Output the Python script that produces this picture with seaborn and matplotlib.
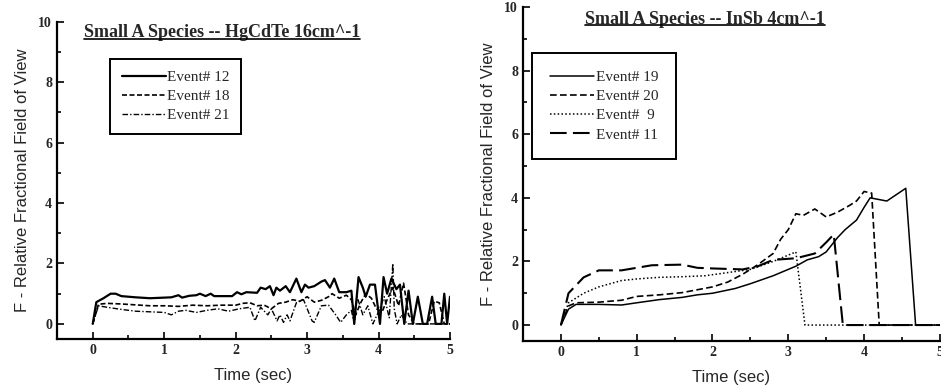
import matplotlib
matplotlib.use("Agg")
import matplotlib.pyplot as plt
from matplotlib.lines import Line2D
from matplotlib.ticker import MultipleLocator
import seaborn as sns

sns.set_style("ticks")
plt.rcParams['font.family'] = ['Liberation Serif', 'DejaVu Serif']

# ---- left panel: HgCdTe 16cm^-1 ----
t12 = [0, 0.05, 0.15, 0.25, 0.32, 0.4, 0.6, 0.8, 1.0, 1.1, 1.2, 1.25, 1.35, 1.45, 1.5, 1.58, 1.65, 1.7,
       1.95, 2.02, 2.08, 2.15, 2.3, 2.35, 2.42, 2.48, 2.53, 2.57, 2.62, 2.7, 2.76, 2.85, 2.92, 2.97,
       3.02, 3.1, 3.2, 3.25, 3.32, 3.38, 3.45, 3.55, 3.62, 3.66, 3.72, 3.78, 3.82, 3.88, 3.95, 4.02,
       4.07, 4.12, 4.18, 4.25, 4.3, 4.36, 4.42, 4.48, 4.55, 4.62, 4.68, 4.75, 4.8, 4.88, 4.92, 4.96, 5.0]
f12 = [0, 0.72, 0.85, 1.0, 1.0, 0.92, 0.88, 0.85, 0.87, 0.88, 0.95, 0.87, 0.93, 0.95, 1.0, 0.92, 1.0, 0.92,
       0.92, 1.05, 0.98, 1.05, 1.03, 1.2, 1.15, 1.25, 0.95, 1.2, 1.1, 1.25, 1.05, 1.5, 1.05, 1.3,
       1.2, 1.25, 1.4, 1.45, 1.2, 1.5, 1.05, 1.05, 1.1, 0.0, 1.55, 1.2, 0.9, 1.3, 1.3, 0.0,
       1.55, 1.0, 1.5, 1.15, 1.3, 0.0, 1.1, 0.0, 0.9, 0.0, 0.0, 0.9, 0.0, 0.0, 1.0, 0.0, 0.9]

t18 = [0, 0.08, 0.2, 0.4, 0.6, 0.8, 1.0, 1.2, 1.4, 1.6, 1.8, 2.0, 2.1, 2.2, 2.3, 2.4, 2.5, 2.6, 2.7,
       2.8, 2.9, 3.0, 3.1, 3.2, 3.3, 3.35, 3.45, 3.55, 3.62, 3.68, 3.75, 3.82, 3.9, 3.97, 4.05, 4.12,
       4.2, 4.28, 4.35, 4.42, 4.5, 4.6, 4.7, 4.78, 4.85, 4.92, 5.0]
f18 = [0, 0.65, 0.68, 0.66, 0.63, 0.6, 0.6, 0.58, 0.62, 0.6, 0.62, 0.62, 0.68, 0.7, 0.6, 0.62, 0.5, 0.68, 0.72,
       0.8, 0.75, 0.9, 0.72, 0.78, 0.9, 1.0, 0.85, 0.95, 0.8, 0.3, 0.7, 1.0, 0.85, 0.5, 0.4, 0.8,
       1.2, 0.6, 1.35, 0.3, 0.0, 0.0, 0.0, 0.75, 0.7, 0.0, 0.0]

t21 = [0, 0.08, 0.2, 0.4, 0.6, 0.8, 1.0, 1.1, 1.2, 1.3, 1.45, 1.6, 1.75, 1.9, 2.05, 2.2, 2.27, 2.35, 2.45,
       2.5, 2.58, 2.62, 2.67, 2.72, 2.76, 2.85, 2.95, 3.07, 3.1, 3.2, 3.3, 3.4, 3.47, 3.55, 3.62, 3.66,
       3.7, 3.78, 3.85, 3.92, 4.0, 4.08, 4.15, 4.2, 4.22, 4.26, 4.32, 4.4, 4.5, 4.6, 4.7, 4.8, 4.9, 5.0]
f21 = [0, 0.6, 0.55, 0.48, 0.42, 0.4, 0.38, 0.3, 0.42, 0.45, 0.38, 0.45, 0.5, 0.42, 0.5, 0.55, 0.1, 0.55, 0.3,
       0.5, 0.1, 0.3, 0.05, 0.3, 0.1, 0.7, 0.8, 0.1, 0.05, 0.6, 0.62, 0.3, 0.05, 0.3, 0.45, 0.0,
       0.9, 0.3, 0.6, 0.0, 0.4, 0.9, 0.2, 2.0, 0.5, 0.0, 0.3, 0.0, 0.0, 0.0, 0.0, 0.0, 0.0, 0.0]

# ---- right panel: InSb 4cm^-1 ----
t19 = [0, 0.1, 0.2, 0.5, 0.8, 1.0, 1.3, 1.6, 1.8, 2.0, 2.3, 2.5, 2.8, 3.1, 3.25, 3.4, 3.5, 3.65, 3.75,
       3.9, 4.0, 4.08, 4.3, 4.55, 4.68, 5.0]
f19 = [0, 0.5, 0.65, 0.65, 0.63, 0.7, 0.8, 0.87, 0.95, 1.0, 1.15, 1.3, 1.55, 1.85, 2.05, 2.15, 2.3, 2.75, 3.0,
       3.3, 3.7, 4.0, 3.9, 4.3, 0.0, 0.0]

t20 = [0, 0.1, 0.2, 0.5, 0.8, 1.0, 1.3, 1.6, 2.0, 2.2, 2.4, 2.6, 2.8, 2.9, 3.0, 3.1, 3.2, 3.35, 3.5,
       3.65, 3.8, 3.9, 4.0, 4.1, 4.2, 5.0]
f20 = [0, 0.6, 0.7, 0.72, 0.78, 0.9, 0.95, 1.02, 1.2, 1.35, 1.6, 1.9, 2.25, 2.7, 3.0, 3.5, 3.45, 3.65, 3.4,
       3.55, 3.75, 3.9, 4.2, 4.15, 0.0, 0.0]

t9 = [0, 0.1, 0.3, 0.5, 0.8, 1.0, 1.3, 1.6, 1.9, 2.2, 2.5, 2.8, 3.1, 3.22, 5.0]
f9 = [0, 0.7, 1.0, 1.2, 1.4, 1.45, 1.5, 1.52, 1.55, 1.65, 1.75, 2.0, 2.3, 0.0, 0.0]

t11 = [0, 0.1, 0.3, 0.5, 0.8, 1.0, 1.2, 1.6, 1.8, 2.0, 2.4, 2.6, 2.8, 3.1, 3.35, 3.5, 3.6, 3.72, 5.0]
f11 = [0, 1.0, 1.5, 1.72, 1.72, 1.8, 1.88, 1.9, 1.8, 1.78, 1.75, 1.85, 2.05, 2.1, 2.25, 2.6, 2.85, 0.0, 0.0]

left_series = [("Event# 12", t12, f12, "-", 1.6),
               ("Event# 18", t18, f18, (0, (3, 1.5)), 1.2),
               ("Event# 21", t21, f21, (0, (4, 1.5, 1, 1.5)), 1.0)]
right_series = [("Event# 19", t19, f19, "-", 1.1),
                ("Event# 20", t20, f20, (0, (4, 2)), 1.2),
                ("Event#  9", t9, f9, (0, (1, 1.5)), 1.1),
                ("Event# 11", t11, f11, (0, (8, 3)), 1.5)]

fig = plt.figure(figsize=(9.41, 3.91), dpi=100)
ax1 = fig.add_axes([0.0606, 0.133, 0.4176, 0.811])
ax2 = fig.add_axes([0.5558, 0.128, 0.443, 0.854])


def style_axes(ax, title, tx, ty, leg_anchor, series, bpad):
    for lab, t, f, ls, lw in series:
        sns.lineplot(x=t, y=f, ax=ax, color="black", linestyle=ls, linewidth=lw,
                     estimator=None, sort=False, label=lab)
    ax.set_xlim(-0.5, 5)
    ax.set_ylim(-0.5, 10)
    ax.xaxis.set_major_locator(MultipleLocator(1))
    ax.xaxis.set_minor_locator(MultipleLocator(0.5))
    ax.yaxis.set_major_locator(MultipleLocator(2))
    ax.yaxis.set_minor_locator(MultipleLocator(1))
    ax.tick_params(which="both", direction="in", color="black", labelsize=10, width=1.2)
    ax.tick_params(which="major", length=5)
    ax.tick_params(which="minor", length=3)
    for lbl in ax.get_xticklabels() + ax.get_yticklabels():
        lbl.set_fontweight("bold")
    for s in ["top", "right"]:
        ax.spines[s].set_visible(False)
    for s in ["left", "bottom"]:
        ax.spines[s].set_linewidth(1.6)
        ax.spines[s].set_color("black")
    ax.set_xlabel("Time (sec)", family="Liberation Sans", fontsize=12, labelpad=8)
    ax.set_ylabel("F - Relative Fractional Field of View", family="Liberation Sans", fontsize=12,
                  labelpad=6)
    leg = ax.legend(loc="upper left", bbox_to_anchor=leg_anchor, fontsize=11, handlelength=2.9,
                    handletextpad=0.1, labelspacing=0.35, fancybox=False, framealpha=1,
                    borderpad=bpad, borderaxespad=0)
    leg.get_frame().set_edgecolor("black")
    leg.get_frame().set_linewidth(1.4)
    txt = ax.text(tx, ty, title, transform=ax.transAxes, ha="center", va="center",
                  fontsize=13, fontweight="bold")
    return txt


tt1 = style_axes(ax1, "Small A Species -- HgCdTe 16cm^-1", 0.42, 0.965, (0.135, 0.883),
                 left_series, 0.75)
tt2 = style_axes(ax2, "Small A Species -- InSb 4cm^-1", 0.437, 0.964, (0.022, 0.862),
                 right_series, 1.15)

# underline the in-plot titles
fig.canvas.draw()
inv = fig.transFigure.inverted()
for tt in (tt1, tt2):
    bb = tt.get_window_extent().transformed(inv)
    yline = bb.y0 + 2.5 / 391
    fig.add_artist(Line2D([bb.x0, bb.x1], [yline, yline], color="black", linewidth=1.2))

fig.savefig("out.png", dpi=100)
